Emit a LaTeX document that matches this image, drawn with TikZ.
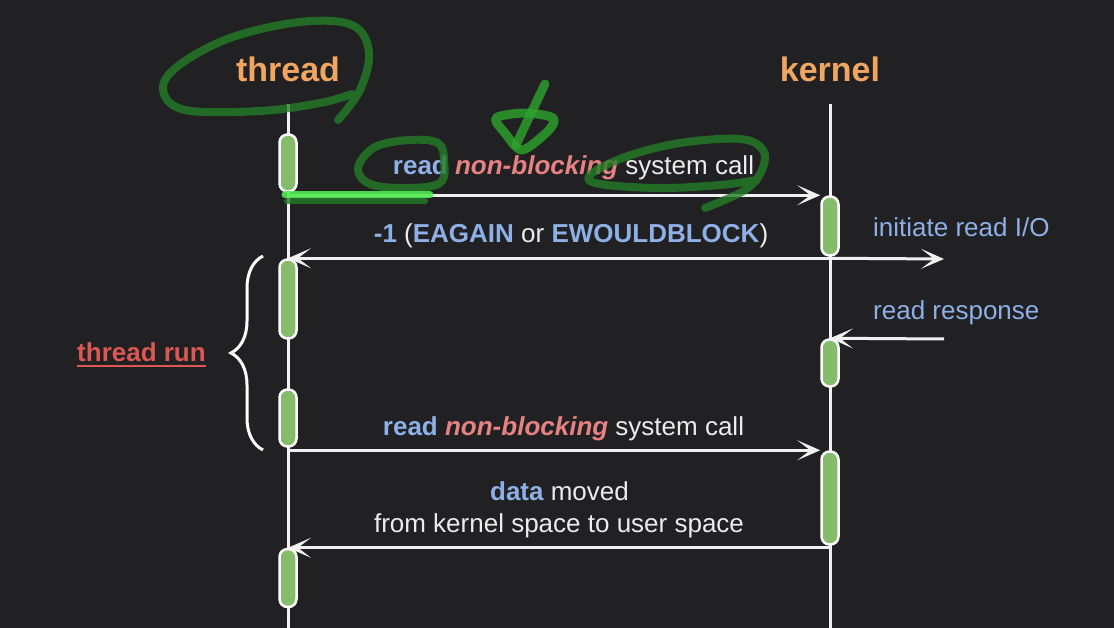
\documentclass[tikz,border=0pt]{standalone}
\usepackage{fontspec}
\setmainfont{Liberation Sans}
\usetikzlibrary{arrows.meta,decorations.pathreplacing}
\definecolor{bgc}{RGB}{33,32,34}
\definecolor{linec}{RGB}{240,240,240}
\definecolor{txtc}{RGB}{236,236,236}
\definecolor{orangec}{RGB}{240,166,96}
\definecolor{bluec}{RGB}{142,176,230}
\definecolor{pinkc}{RGB}{230,130,130}
\definecolor{redc}{RGB}{220,88,84}
\definecolor{barc}{RGB}{132,188,108}
\definecolor{scribc}{RGB}{35,125,40}
\definecolor{scribb}{RGB}{45,165,45}
\definecolor{scribl}{RGB}{80,235,80}
\begin{document}
\begin{tikzpicture}[x=1pt,y=-1pt,
  life/.style={draw=linec, line width=3pt},
  msg/.style={draw=linec, line width=3pt, -{Stealth[length=23pt,width=20pt,inset=13pt]}},
  bar/.style={draw=white, line width=2.5pt, fill=barc, rounded corners=8pt, minimum width=17pt, inner sep=0pt},
  lbl/.style={text=txtc, font=\fontsize{26}{31}\selectfont, inner sep=0pt, anchor=base},
  ttl/.style={text=orangec, font=\fontsize{34}{40}\selectfont\bfseries, inner sep=0pt, anchor=base},
  scrib/.style={draw=scribc, line width=8pt, line cap=round, line join=round, opacity=0.8},
]
\fill[bgc] (0,0) rectangle (1114,628);
\useasboundingbox (0,0) rectangle (1114,628);

% titles
\node[ttl] (thr) at (288,82) {thread};
\node[ttl] (ker) at (830,82) {kernel};

% lifelines
\coordinate (ttop) at (288,104);
\coordinate (tbot) at (288,628);
\coordinate (ktop) at (830,104);
\coordinate (kbot) at (830,628);
\draw[life] (ttop) -- (tbot);
\draw[life] (ktop) -- (kbot);

% activation bars
\node[bar, minimum height=57pt] (t1) at (288,163) {};
\node[bar, minimum height=59pt] (k1) at (830,226) {};
\node[bar, minimum height=79pt] (t2) at (288,299) {};
\node[bar, minimum height=47pt] (k2) at (830,363) {};
\node[bar, minimum height=57pt] (t3) at (288,418) {};
\node[bar, minimum height=93pt] (k3) at (830,498) {};
\node[bar, minimum height=58pt] (t4) at (288,578) {};

% messages
\coordinate (ioend) at (944,259);
\coordinate (rr) at (944,339);
\draw[msg] (t1.south |- k1.north) -- (k1.north west);
\draw[msg] (k1.center |- t2.north) -- (t2.north);
\draw[msg] (k1.center |- t2.north) -- (ioend);
\draw[msg] (rr) -- (k2.north);
\draw[msg] (t3.south |- k3.north) -- (k3.north west);
\draw[msg] (k3.center |- t4.north) -- (t4.north);

% labels
\node[lbl] (m1) at (573.5,175) {{\color{bluec}\bfseries read} {\color{pinkc}\bfseries\itshape non-blocking} system call};
\node[lbl] (m2) at (571,243) {{\color{bluec}\bfseries -1} ({\color{bluec}\bfseries EAGAIN} or {\color{bluec}\bfseries EWOULDBLOCK})};
\node[lbl, anchor=base west, text=bluec] (io) at (873,237) {initiate read I/O};
\node[lbl, anchor=base west, text=bluec] (rsp) at (873,320) {read response};
\node[lbl] (m4) at (563.5,435) {{\color{bluec}\bfseries read} {\color{pinkc}\bfseries\itshape non-blocking} system call};
\node[lbl] (m5a) at (559.5,500) {{\color{bluec}\bfseries data} moved};
\node[lbl] (m5b) at (559,532) {from kernel space to user space};

% thread run brace
\draw[draw=white, line width=3pt, decorate, decoration={brace, amplitude=32pt}] (263,450) -- (263,256);
\node[lbl, text=redc, font=\fontsize{26}{31}\selectfont\bfseries] (tr) at (141.5,362) {thread run};
\draw[redc, line width=2pt] ([yshift=-3.5pt]tr.base west) -- ([yshift=-3.5pt]tr.base east);

% hand-drawn annotations
\draw[scrib] plot[smooth, tension=0.6] coordinates {(338,120) (360,90) (369,52) (352,25) (300,22) (230,38) (178,66) (163,90) (185,110) (260,111) (320,103) (352,94)};
\draw[scrib] plot[smooth cycle, tension=0.6] coordinates {(358,168) (375,147) (410,140) (438,143) (444,160) (440,183) (405,188) (370,184)};
\draw[scrib, line width=6pt] (287,201) -- (425,201);
\draw[draw=scribl, line width=7pt, line cap=round, opacity=0.9] (285,195) -- (430,195);
\draw[scrib, draw=scribb, opacity=0.8, line width=9pt] plot[smooth, tension=0.6] coordinates {(545,84) (535,105) (524,128) (516,145)};
\draw[scrib, draw=scribb, opacity=0.8, line width=9pt] plot[smooth cycle, tension=0.5] coordinates {(496,118) (525,113) (553,118) (548,131) (522,150) (505,133)};
\draw[scrib] plot[smooth, tension=0.6] coordinates {(705,208) (745,190) (762,170) (763,150) (740,139) (680,143) (625,157) (590,175) (600,184) (660,188) (720,185) (757,180)};
\end{tikzpicture}
\end{document}
